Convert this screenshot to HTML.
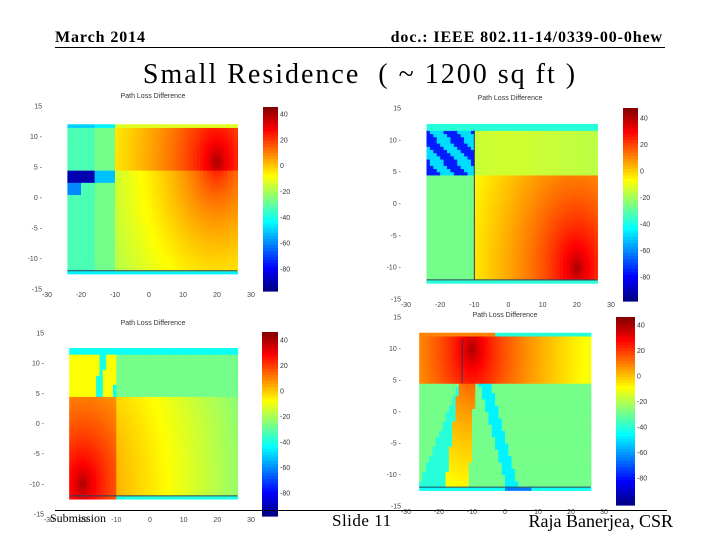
<!DOCTYPE html>
<html><head><meta charset="utf-8">
<style>
body{margin:0;background:#fff;}
#slide{position:relative;width:720px;height:540px;overflow:hidden;background:#fff;font-family:"Liberation Serif",serif;}
.t{position:absolute;white-space:nowrap;}
svg{position:absolute;left:0;top:0;}
</style></head>
<body>
<div id="slide">
<div class="t" style="left:55px;top:29px;font-size:16px;font-weight:bold;letter-spacing:0.9px;">March 2014</div>
<div class="t" style="right:57px;top:29px;font-size:16px;font-weight:bold;letter-spacing:0.9px;">doc.: IEEE 802.11-14/0339-00-0hew</div>
<div style="position:absolute;left:55px;top:47px;width:610px;height:1px;background:#000;"></div>
<div class="t" style="left:0;width:720px;text-align:center;top:59px;font-size:28px;letter-spacing:2px;">Small Residence &nbsp;( ~ 1200 sq ft )</div>
<svg id="charts" width="720" height="540"></svg>
<div style="position:absolute;left:55px;top:510px;width:612px;height:1px;background:#000;"></div>
<div class="t" style="left:50px;top:511px;font-size:12px;">Submission</div>
<div class="t" style="left:332px;top:511px;font-size:17px;letter-spacing:0.5px;">Slide 11</div>
<div class="t" style="right:47px;top:511px;font-size:18px;">Raja Banerjea, CSR</div>
</div>
<script>
const xTicks=[-30,-20,-10,0,10,20,30];
const yTicks=[15,10,5,0,-5,-10,-15];
const cbTicks=[40,20,0,-20,-40,-60,-80];
const cbRange=[-97,46];
const sources=[[20,6],[20,-10],[-20,-10],[-10,10]];
const wallY=4.5, wallX=-10;

function dist(x,y,s){return Math.hypot(x-s[0],y-s[1]);}
function near(d){return 45-9*Math.sqrt(d);}
function far(d){return Math.max(-20,35-9*Math.sqrt(d));}
const models=[
 function(x,y){const s=sources[0];
  if(y<-12) return -45;
  if(x<-16){ if(y>2.5&&y<4.5) return -90; if(y>0.5&&y<=2.5&&x<-20) return -60; if(y>11.5) return -50; return -33;}
  if(x<wallX){ if(y>2.5&&y<4.5) return -52; if(y>11.5) return -45; return -27;}
  const d=dist(x,y,s); if(y>11.5) return -12; if(y>wallY) return near(d); return far(d);},
 function(x,y){const s=sources[1];
  if(y<-12||y>11.5) return -38;
  if(x<wallX){ if(y>wallY){ const k=Math.floor((x+1.7*y)/4); return (Math.abs(k)%2===0)?-75:-48;} return -27;}
  if(y>wallY) return -14-Math.abs(x)*0.12;
  return Math.max(-10,near(dist(x,y,s)));},
 function(x,y){const s=sources[2];
  if(y>11.5) return -42;
  if(x>wallX){ if(y>wallY) return -27; if(y<-12) return -40; return Math.max(-25,10-dist(x,y,s)*0.7);}
  if(y<=wallY) return near(dist(x,y,s));
  const a=x+16-(y-wallY)*0.15, b=x+11.5-(y-wallY)*0.45;
  if(a>=0&&a<1.8) return -40; if(b>=0&&b<1.8) return -42; if(x>-11.5+(y-wallY)*0.45+1.8) return -27;
  return -8;},
 function(x,y){const s=sources[3];
  if(y<-12) return (x>0&&x<8)?-62:-42;
  if(y>11.8) return x>-3?-38:10;
  if(y>wallY) return Math.max(-20,near(dist(x,y,s)));
  const t=wallY-y;
  const L=-14-t*0.25, R=-9-t*0.12;
  if(x>=L&&x<=R) return far(dist(x,y,s));
  if(x<L&&x>-14-t*0.75) return -38;
  const c=-6+t*0.5; if(Math.abs(x-c)<1.8) return -45;
  return -27;}
];
const charts=[
 {x0:47,x1:251,y15:106,ym15:289,cb:[263,107,15,184],c40:114,cm80:269,title:[153,98],ext:[-24,26,-12.5,11.8]},
 {x0:406,x1:611,y15:108,ym15:299,cb:[623,108,15,193],c40:118,cm80:277,title:[510,100],ext:[-24,26,-12.5,12.2]},
 {x0:49,x1:251,y15:333,ym15:514,cb:[262,332,16,184],c40:340,cm80:493,title:[153,325],ext:[-24,26,-12.5,12.2]},
 {x0:406,x1:604,y15:317,ym15:506,cb:[616,317,19,188],c40:325,cm80:478,title:[505,317],ext:[-26,26,-12.5,12.5]}
];
function jet(v){let t=(v-cbRange[0])/(cbRange[1]-cbRange[0]);t=Math.max(0,Math.min(1,t));
 const c=f=>Math.round(255*Math.max(0,Math.min(1,1.5-Math.abs(4*t-f))));
 return `rgb(${c(3)},${c(2)},${c(1)})`;}
const NS='http://www.w3.org/2000/svg';
const svg=document.getElementById('charts');
function el(tag,attrs,parent){const e=document.createElementNS(NS,tag);for(const k in attrs)e.setAttribute(k,attrs[k]);(parent||svg).appendChild(e);return e;}
charts.forEach((ch,i)=>{
 const g=el('g',{});
 
 
 const sx=x=>ch.x0+(x+30)/60*(ch.x1-ch.x0);
 const sy=y=>ch.y15+(15-y)/30*(ch.ym15-ch.y15);
 const [ex0,ex1,ey0,ey1]=ch.ext;
 const dx=1,dy=0.5;
 for(let x=ex0;x<ex1;x+=dx){for(let y=ey0;y<ey1;y+=dy){
  const v=models[i](x+dx/2,y+dy/2);
  const r=el('rect',{x:sx(x).toFixed(2),y:sy(y+dy).toFixed(2),width:(sx(x+dx)-sx(x)+0.6).toFixed(2),height:(sy(y)-sy(y+dy)+0.6).toFixed(2),fill:jet(v)},g);
  
  
 }}
 if(i===1){const w=el('line',{x1:sx(-10),x2:sx(-10),y1:sy(11.5),y2:sy(-12),stroke:'#335',"stroke-width":1},g);}
 if(i===3){const w=el('line',{x1:sx(-13),x2:sx(-13),y1:sy(11.5),y2:sy(4.5),stroke:'#335',"stroke-width":1},g);}
 const bl=el('line',{x1:sx(ex0),x2:sx(26),y1:sy(-12),y2:sy(-12),stroke:'#246',"stroke-width":1},g);
 
 const tt=el('text',{x:ch.title[0],y:ch.title[1],"font-size":7,"text-anchor":"middle","font-family":"Liberation Sans, sans-serif",fill:'#333'},g);
 tt.textContent='Path Loss Difference';
 
 yTicks.forEach(v=>{const t=el('text',{x:sx(-30)-5,y:sy(v)+2.5,"font-size":7,"text-anchor":"end","font-family":"Liberation Sans, sans-serif",fill:'#444'},g);
  t.textContent=v+(v>-15&&v<15?' -':'');
  });
 xTicks.forEach(v=>{const t=el('text',{x:sx(v),y:sy(-15)+8,"font-size":7,"text-anchor":"middle","font-family":"Liberation Sans, sans-serif",fill:'#444'},g);
  t.textContent=v;
  });
 const [cx,cy,cw,chh]=ch.cb;
 const cv=v=>ch.c40+(40-v)/120*(ch.cm80-ch.c40);
 const n=60;
 for(let k=0;k<n;k++){const v0=cbRange[1]-(cbRange[1]-cbRange[0])*k/n;
  const r=el('rect',{x:cx,y:(cy+chh*k/n).toFixed(2),width:cw,height:(chh/n+0.6).toFixed(2),fill:jet(v0-(cbRange[1]-cbRange[0])/n/2)},g);
  }
 cbTicks.forEach(v=>{const t=el('text',{x:cx+cw+2,y:cv(v)+2.5,"font-size":7,"font-family":"Liberation Sans, sans-serif",fill:'#333'},g);
  t.textContent=v;
  });
});
</script>
</body></html>
